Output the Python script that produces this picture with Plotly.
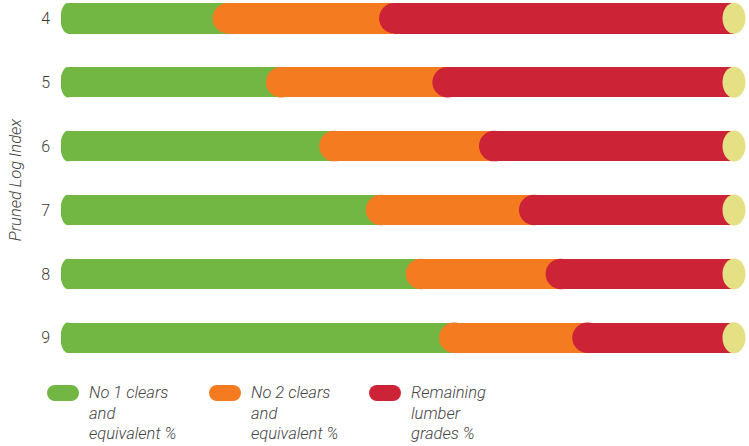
import plotly.graph_objects as go

# ---- data ----
log_index = [4, 5, 6, 7, 8, 9]
no1_clears = [24, 32, 40, 47, 53, 58]
no2_clears = [25, 25, 24, 23, 21, 20]
remaining = [51, 43, 36, 30, 26, 22]

series_names = ["No 1 clears and equivalent %",
                "No 2 clears and equivalent %",
                "Remaining lumber grades %"]
legend_lines = [["No 1 clears", "and", "equivalent %"],
                ["No 2 clears", "and", "equivalent %"],
                ["Remaining", "lumber", "grades %"]]
colors = ["#72B644", "#F47B20", "#CC2336"]
cap_color = "#E6E085"
text_color = "#444444"
FONT = "Roboto, sans-serif"

W, H = 749, 446
L, R, T, B = 61, 0, 0, 86
plot_w = W - L - R
plot_h = H - T - B

fig = go.Figure()

series = [no1_clears, no2_clears, remaining]
for vals, name, col in zip(series, series_names, colors):
    fig.add_trace(go.Bar(
        y=log_index, x=vals, orientation="h", name=name,
        marker=dict(color=col, line=dict(width=0)),
        width=0.477, showlegend=False, hoverinfo="skip"))

# rounded caps at each segment start (colour of the segment that starts)
start2 = no1_clears
start3 = [a + b for a, b in zip(no1_clears, no2_clears)]
total = [a + b + c for a, b, c in zip(no1_clears, no2_clears, remaining)]
for starts, col in [(start2, colors[1]), (start3, colors[2])]:
    fig.add_trace(go.Scatter(
        x=starts, y=log_index, mode="markers",
        marker=dict(color=col, size=30.5, line=dict(width=0)),
        showlegend=False, hoverinfo="skip", cliponaxis=False))

# left rounded end of the first segment and yellow end cap
for yv, tv in zip(log_index, total):
    fig.add_shape(type="circle", xref="x", yref="y",
                  xsizemode="pixel", ysizemode="pixel",
                  xanchor=0, yanchor=yv, x0=-7.5, x1=7.5, y0=-15.25, y1=15.25,
                  fillcolor=colors[0], line=dict(width=0), layer="above")
    fig.add_shape(type="circle", xref="x", yref="y",
                  xsizemode="pixel", ysizemode="pixel",
                  xanchor=tv, yanchor=yv, x0=-11.5, x1=11.5, y0=-15.5, y1=15.5,
                  fillcolor=cap_color, line=dict(width=0), layer="above")

# ---- manual legend ----
def px2fx(px):
    return (px - L) / plot_w

def py2fy(py):
    return (T + plot_h - py) / plot_h

legend_x = [47, 209, 369]
for lx, lines, col in zip(legend_x, legend_lines, colors):
    cy = 393
    fig.add_shape(type="rect", xref="paper", yref="paper",
                  xsizemode="pixel", ysizemode="pixel",
                  xanchor=px2fx(lx + 16), yanchor=py2fy(cy),
                  x0=-8, x1=8, y0=-8, y1=8,
                  fillcolor=col, line=dict(width=0), layer="above")
    for dx in (8, 24):
        fig.add_shape(type="circle", xref="paper", yref="paper",
                      xsizemode="pixel", ysizemode="pixel",
                      xanchor=px2fx(lx + dx), yanchor=py2fy(cy),
                      x0=-8, x1=8, y0=-8, y1=8,
                      fillcolor=col, line=dict(width=0), layer="above")
    for i, line in enumerate(lines):
        fig.add_annotation(x=px2fx(lx + 40), y=py2fy(cy + 20 * i), xref="paper", yref="paper",
                           xanchor="left", yanchor="middle", align="left",
                           text=line, showarrow=False,
                           font=dict(family=FONT, size=16.5, color=text_color,
                                     style="italic", weight=300))

fig.update_layout(
    width=W, height=H,
    margin=dict(l=L, r=R, t=T, b=B, autoexpand=False),
    barmode="stack", bargap=0,
    plot_bgcolor="white", paper_bgcolor="white",
    font=dict(family=FONT, color=text_color),
)
fig.update_xaxes(range=[-1.051, 102.25], visible=False, fixedrange=True)
fig.update_yaxes(
    range=[4 + (plot_h - 18.3) / 63.9, 4 - 18.3 / 63.9],
    tickmode="array", tickvals=log_index, ticktext=[str(v) for v in log_index],
    showgrid=False, zeroline=False, showline=False, ticks="",
    ticklabelstandoff=10,
    tickfont=dict(family=FONT, size=16, color="#3a3a3a", weight=300),
    title=dict(text="Pruned Log Index",
               font=dict(family=FONT, size=16.5, color=text_color,
                         style="italic", weight=300)),
    automargin=False, fixedrange=True,
)

fig.write_html("out.html")
